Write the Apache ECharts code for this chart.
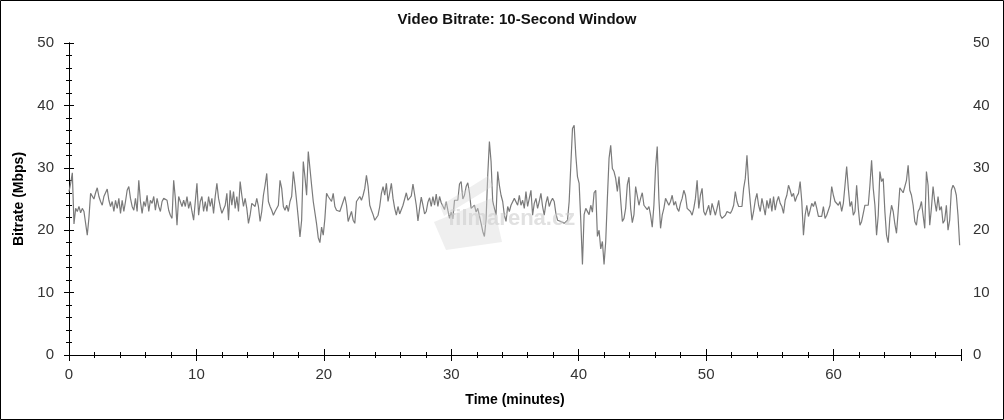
<!DOCTYPE html>
<html><head><meta charset="utf-8">
<script src="https://cdn.jsdelivr.net/npm/echarts@6.0.0/dist/echarts.min.js"></script>
<style>html,body{margin:0;padding:0;background:#fff}#c{width:1004px;height:420px}</style>
</head><body><div id="c"></div>
<script>
// sampling interval of the trace (minutes)
const stepMin = 0.1304;
// video bitrate (Mbps) in four consecutive stretches
const bitrateA = [
26.2,27.5,29.2,21.0,23.5,23.0,23.8,22.8,23.5,23.0,
23.2,19.2,22.0,25.9,25.6,25.0,26.0,26.8,25.4,24.6,
24.0,25.4,26.0,26.6,24.8,23.8,24.6,23.0,24.8,23.5,
25.1,22.7,24.8,23.0,24.6,26.4,27.0,25.1,23.8,23.2,
25.1,23.0,28.0,24.6,22.7,24.6,23.8,25.6,23.0,24.8,
24.3,25.4,23.2,25.1,23.8,23.0,24.6,25.1,25.4,24.8,
23.2,22.4,21.9,28.0,25.1,20.8,25.4,24.6,23.8,24.8,
23.8,25.4,23.5,24.6,23.0,21.6,24.6,27.5,22.4,24.6,
25.4,23.0,24.6,23.0,25.4,23.8,25.1,22.7,25.4,27.5,
25.1,23.8,22.7,23.0,24.0,25.9,21.6,26.4,24.0,26.2,
23.5,25.4,23.0,27.8,25.6,23.8,25.1,23.5,21.1,22.4,
24.3,24.6,23.8,25.1,23.8,21.4,23.0,25.6,27.2,29.1,
24.6,23.8,23.2,22.4,23.0,23.2,24.0,28.0,26.7,23.8,
23.2,24.0,23.0,24.6,25.4];
const bitrateB = [
29.4,27.2,24.6,21.9,18.9,21.6,31.0,28.5,25.6,32.6,
29.9,27.2,24.6,24.5,21.0,18.8,18.0,20.5,19.2,21.9,
25.9,25.4,25.6,24.6,25.9,23.8,23.2,23.5,23.0,23.8,
23.5,25.4,24.0,21.4,21.1,23.0,21.6,21.1,24.6,24.8,
25.4,24.8,25.6,26.7,28.8,27.0,24.0,23.2,22.5,21.6,
21.4,22.4,23.8,25.9,27.0,25.6,27.5,24.6,26.0,27.5,
25.1,23.5,22.4,23.8,22.6,22.9,24.0,25.0,26.0,24.8,
24.6,25.5,27.4,27.6,24.0,21.5,23.5,25.3,24.0,22.6,
23.0,24.5,25.2,23.8,25.4,24.0,25.8,23.8,25.4,24.4,
24.3,23.3,24.6,23.2,21.9,22.9,21.8,24.8,24.6,24.8,
27.4,27.8,25.0,25.6,27.0,27.6,26.0,23.5,23.8,24.0,
22.9,23.5,22.3,21.1,19.8,19.0,21.8,28.8,34.2,31.0,
24.6,23.5,22.4,29.4,27.2,25.6,24.6,22.4,21.4,23.8,
23.0,24.0,23.8,25.1];
const bitrateC = [
25.1,24.0,25.6,24.0,24.8,23.5,26.2,23.8,25.1,26.4,
22.4,24.3,25.1,23.5,24.6,25.9,23.8,22.4,24.3,25.4,
23.8,24.6,25.1,24.6,22.7,21.6,21.9,21.4,21.6,21.1,
21.4,21.6,24.6,30.4,36.3,36.8,32.0,28.6,27.5,21.5,
14.5,22.5,23.5,23.5,22.5,24.0,22.9,26.0,26.4,19.0,
20.0,17.0,18.2,14.5,18.2,25.1,31.5,33.6,29.9,29.4,
28.3,26.2,28.6,24.8,21.4,21.9,23.5,27.3,28.5,23.5,
21.2,22.5,27.0,27.0,24.0,25.1,26.0,24.0,23.8,23.3,
23.8,22.4,20.5,24.0,30.0,33.4,25.0,20.3,22.4,23.5,
25.1,25.4,24.0,24.6,25.6,24.0,24.6,23.5,23.0,24.3,
25.1,26.4,25.6,23.5,23.8,23.0,22.4,23.5,25.1,28.0,
23.5,25.6,26.7,23.0,22.4,23.2,24.0,22.4,24.3,24.0,
22.4,23.5,24.8,22.4,21.9,22.2,22.4,23.0,23.0,22.7,
23.2,24.0,26.2,24.6];
const bitrateD = [
23.8,24.0,23.8,26.7,28.3,32.0,27.5,24.5,21.6,23.0,
24.8,25.9,24.0,23.0,25.1,23.8,22.4,24.8,23.5,25.1,
23.0,25.4,23.2,24.6,25.4,24.3,23.8,22.7,24.8,25.6,
27.2,26.4,25.4,25.9,24.6,25.4,25.9,27.8,24.6,19.2,
22.4,24.0,22.2,23.2,24.3,23.8,24.6,23.5,22.2,22.4,
22.2,23.8,21.9,22.4,22.2,24.0,27.0,25.6,24.6,24.8,
24.0,24.6,23.0,24.3,27.2,30.2,26.7,23.8,24.6,22.4,
23.0,27.2,23.5,20.8,21.4,22.7,24.0,23.8,24.0,27.2,
31.2,26.7,24.0,19.2,22.4,29.4,27.8,28.3,23.0,19.2,
18.0,22.0,24.0,23.0,21.0,19.5,23.0,26.8,26.4,26.0,
25.7,28.0,30.4,26.4,25.6,24.0,21.4,20.8,23.0,23.5,
24.6,22.4,20.3,29.4,27.2,20.8,23.5,27.0,24.6,23.0,
25.4,23.2,23.8,21.1,21.6,24.0,20.0,21.6,26.4,27.2,
26.7,25.6,22.4,17.6];
const xTickLabels = [0,10,20,30,40,50,60];
const yTickLabels = [0,10,20,30,40,50];
const titleText = 'Video Bitrate: 10-Second Window';
const xName = 'Time (minutes)';
const yName = 'Bitrate (Mbps)';
const watermark = 'filmarena.cz';

const bitrate = bitrateA.concat(bitrateB, bitrateC, bitrateD);
const seriesData = bitrate.map((v, i) => [i * stepMin, v]);

const FONT = '"Liberation Sans", Arial, sans-serif';
const INK = '#000';
const LBL = '#333';

function xAx(pos, inside, len, mlen, labels, line) {
  return {
    type: 'value', position: pos, min: 0, max: 70, interval: 10,
    axisLine: { show: line, lineStyle: { color: INK, width: 1 } },
    axisTick: { show: true, inside: inside, length: len, lineStyle: { color: INK } },
    minorTick: { show: true, splitNumber: 5, length: mlen, lineStyle: { color: INK } },
    axisLabel: labels ? {
      show: true, color: LBL, fontFamily: FONT, fontSize: 15, margin: 12,
      showMaxLabel: false,
      formatter: v => xTickLabels.indexOf(v) >= 0 ? String(v) : ''
    } : { show: false },
    splitLine: { show: false }, minorSplitLine: { show: false },
    name: labels ? xName : '', nameLocation: 'middle', nameGap: 38,
    nameTextStyle: { fontFamily: FONT, fontWeight: 'bold', fontSize: 14, color: INK }
  };
}
function yAx(pos, inside, len, mlen, labels, line, name) {
  return {
    type: 'value', position: pos, min: 0, max: 50, interval: 10,
    axisLine: { show: line, lineStyle: { color: INK, width: 1 } },
    axisTick: { show: true, inside: inside, length: len, lineStyle: { color: INK } },
    minorTick: { show: true, splitNumber: 5, length: mlen, lineStyle: { color: INK } },
    axisLabel: labels ? {
      show: true, color: LBL, fontFamily: FONT, fontSize: 15, margin: pos === 'left' ? 15 : 12,
      formatter: v => yTickLabels.indexOf(v) >= 0 ? String(v) : ''
    } : { show: false },
    splitLine: { show: false }, minorSplitLine: { show: false },
    name: name || '', nameLocation: 'middle', nameGap: 42,
    nameTextStyle: { fontFamily: FONT, fontWeight: 'bold', fontSize: 14, color: INK }
  };
}

const chart = echarts.init(document.getElementById('c'), null, { renderer: 'canvas' });
chart.setOption({
  animation: false,
  backgroundColor: '#fff',
  grid: { left: 69, right: 43, top: 43, bottom: 65, containLabel: false },
  xAxis: [
    xAx('bottom', true, 6, 3, true, true),
    xAx('bottom', false, 4, 1.5, false, false),
    xAx('top', true, 6, 3, false, true),
    xAx('top', false, 4, 2, false, false)
  ],
  yAxis: [
    yAx('left', true, 5, 3, true, true, yName),
    yAx('left', false, 4, 2.5, false, false),
    yAx('right', true, 5, 3, true, true),
    yAx('right', false, 4, 2.5, false, false)
  ],
  series: [{
    type: 'line', xAxisIndex: 0, yAxisIndex: 0, data: seriesData,
    showSymbol: false, symbol: 'none', smooth: false,
    lineStyle: { color: '#7a7a7a', width: 1.2 },
    z: 2
  }],
  graphic: [
    { type: 'rect', shape: { x: 0.5, y: 0.5, width: 1003, height: 419 },
      style: { fill: null, stroke: '#000', lineWidth: 1 }, z: 100, silent: true },
    { type: 'text', x: 517, y: 20,
      style: { text: titleText, fontFamily: FONT, fontWeight: 'bold', fontSize: 15,
               fill: '#111', textAlign: 'center', textVerticalAlign: 'middle' }, z: 100 },
    { type: 'polygon', shape: { points: [[434,222],[492,198],[502,242],[446,250]] },
      style: { fill: 'rgba(215,215,215,0.4)' }, z: 50, silent: true },
    { type: 'polygon', shape: { points: [[440,206],[488,176],[493,186],[444,216]] },
      style: { fill: 'rgba(215,215,215,0.4)' }, z: 50, silent: true },
    { type: 'text', x: 448, y: 219,
      style: { text: watermark, fontFamily: FONT, fontWeight: 'bold', fontSize: 22,
               fill: 'rgba(205,205,205,0.6)', textAlign: 'left', textVerticalAlign: 'middle' }, z: 51 }
  ]
});
</script>
</body></html>
